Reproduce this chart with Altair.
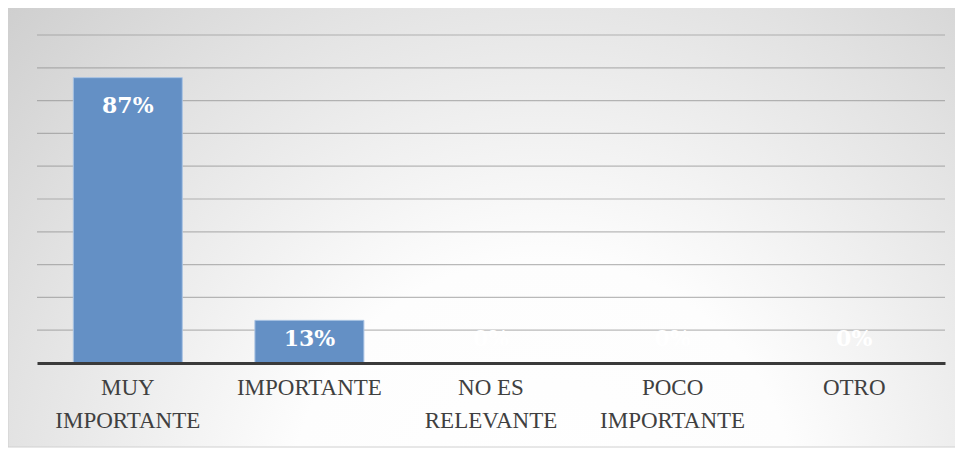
import altair as alt
import pandas as pd

categories = ["MUY IMPORTANTE", "IMPORTANTE", "NO ES RELEVANTE", "POCO IMPORTANTE", "OTRO"]
values = [87, 13, 0, 0, 0]
labels = ["87%", "13%", "0%", "0%", "0%"]
grid_values = [10, 20, 30, 40, 50, 60, 70, 80, 90, 100]

W, H = 908, 328

df = pd.DataFrame({"cat": categories, "value": values, "label": labels})
grid_df = pd.DataFrame({"g": grid_values})
bg_df = pd.DataFrame({"a": [0]})

yscale = alt.Scale(domain=[0, 100])

bg = alt.Chart(bg_df).mark_rect(
    fill={
        "gradient": "radial",
        "x1": 0.56, "y1": 0.8, "r1": 0,
        "x2": 0.56, "y2": 0.8, "r2": 0.95,
        "stops": [
            {"offset": 0, "color": "#ffffff"},
            {"offset": 0.28, "color": "#fdfdfd"},
            {"offset": 0.6, "color": "#e2e2e2"},
            {"offset": 1, "color": "#bebebe"},
        ],
    },
    stroke="#d0d0d0",
    strokeWidth=1,
).encode(
    x=alt.value(-29), x2=alt.value(926), y=alt.value(-29), y2=alt.value(412)
)

grid = alt.Chart(grid_df).mark_rule(color="#8c8c8c", opacity=0.6, strokeWidth=1.2).encode(
    y=alt.Y("g:Q", scale=yscale, axis=None)
)

label_expr = ("length(datum.label) > 11 ? [substring(datum.label, 0, lastindexof(datum.label, ' ')), "
              "substring(datum.label, lastindexof(datum.label, ' ') + 1)] : datum.label")

x = alt.X(
    "cat:N",
    sort=categories,
    scale=alt.Scale(paddingInner=0.4, paddingOuter=0.2),
    axis=alt.Axis(
        title=None, labelAngle=0, labelFont="Liberation Serif", labelFontSize=23,
        labelColor="#404040", labelLineHeight=33, labelPadding=13, ticks=False,
        domainColor="#3a3a3a", domainWidth=3, zindex=1, labelExpr=label_expr,
    ),
)

bars = alt.Chart(df).mark_bar(color="#6490c5", stroke="#a9c3e3", strokeWidth=1).encode(
    x=x,
    y=alt.Y("value:Q", scale=yscale, axis=None),
)

text = alt.Chart(df).transform_calculate(
    pos="max(datum.value, 15.9)"
).mark_text(
    font="DejaVu Serif", fontSize=22, fontWeight="bold", color="white",
    baseline="middle", dy=28,
).encode(
    x=alt.X("cat:N", sort=categories),
    y=alt.Y("pos:Q", scale=yscale, axis=None),
    text="label:N",
)

chart = alt.layer(bg, grid, bars, text).properties(
    width=W, height=H,
    autosize=alt.AutoSizeParams(type="none"),
    padding={"left": 29, "top": 27, "right": 10, "bottom": 86},
).configure_view(stroke=None)

chart.save("out.html", embed_options={"renderer": "svg", "actions": False})
